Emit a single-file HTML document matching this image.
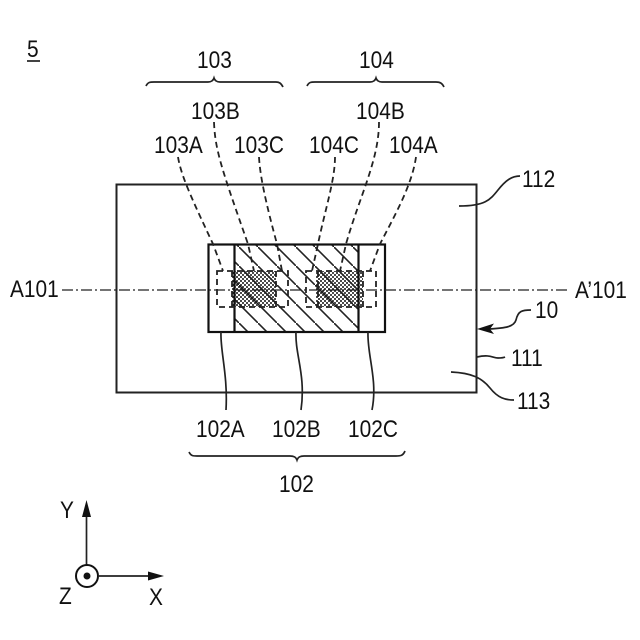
<!DOCTYPE html>
<html>
<head>
<meta charset="utf-8">
<style>
html,body{margin:0;padding:0;background:#fff}
svg{display:block}
text{font-family:"Liberation Sans",sans-serif;font-size:24px;fill:#111;transform-box:fill-box;transform-origin:0 0;transform:scaleX(.87)}
.l{fill:none;stroke:#222;stroke-width:1.7}
.d{fill:none;stroke:#222;stroke-width:1.8;stroke-dasharray:6 4}
</style>
</head>
<body>
<svg width="640" height="640" viewBox="0 0 640 640" xmlns="http://www.w3.org/2000/svg">
<defs>
<pattern id="h" width="19" height="19" patternUnits="userSpaceOnUse" patternTransform="translate(11 0)">
<path d="M-3 -3L22 22" stroke="#222" stroke-width="1.600" fill="none"/>
</pattern>
<pattern id="s" width="4" height="4" patternUnits="userSpaceOnUse">
<rect width="4" height="4" fill="#fff"/>
<circle cx="1" cy="1" r="1" fill="#111"/>
<circle cx="3" cy="3" r="1" fill="#111"/>
</pattern>
</defs>

<text x="27" y="57">5</text>
<path d="M27 61H40" stroke="#222" stroke-width="1.700"/>

<rect x="116.500" y="184.500" width="360" height="208" fill="none" stroke="#222" stroke-width="2"/>

<rect x="234" y="244" width="124" height="88" fill="url(#h)"/>
<rect x="232" y="271" width="44" height="36" fill="url(#s)"/>
<rect x="316" y="271" width="47" height="36" fill="url(#s)"/>
<rect x="234" y="271" width="42" height="36" fill="url(#h)"/>
<rect x="316" y="271" width="42" height="36" fill="url(#h)"/>
<rect x="208.500" y="244.500" width="176.500" height="87.500" fill="none" stroke="#111" stroke-width="2.200"/>
<path d="M234.500 244V332M358.500 244V332" stroke="#111" stroke-width="2.200"/>

<path d="M62 290H568" fill="none" stroke="#222" stroke-width="1.300" stroke-dasharray="11 3 2 3"/>

<rect x="217" y="271" width="71" height="36" class="d"/>
<path d="M232 271V307M276 271V307" class="d"/>
<rect x="306" y="271" width="70" height="36" class="d"/>
<path d="M318 271V307M363 271V307" class="d"/>

<path d="M178 157C181 175 190 195 213 244L223 271" class="d"/>
<path d="M214 122C215 150 222 170 248 244L254 271" class="d"/>
<path d="M259 157C260 175 265 200 277 244L282 271" class="d"/>
<path d="M335 157C335 180 325 210 318 244L312 271" class="d"/>
<path d="M379 122C379 160 360 195 346 244L340 271" class="d"/>
<path d="M416 157C412 185 395 215 380 244L370 271" class="d"/>

<path d="M146 86C148 82 150 82 154 82H208C211 82 213 81 214 78C215 81 217 82 220 82H276C279 82 281 83 283 87" class="l"/>
<path d="M307 86C309 82 311 82 315 82H370C373 82 375 81 376 78C377 81 379 82 382 82H436C440 82 442 83 444 87" class="l"/>
<path d="M189 452C191 456 193 456 197 456H290C294 456 296 457 297 460C298 457 300 456 304 456H396C400 456 403 456 405 451" class="l"/>

<path d="M221 332C220 350 228 375 226 410" class="l"/>
<path d="M296 332C295 355 306 375 301 410" class="l"/>
<path d="M368 332C367 355 378 380 372 410" class="l"/>

<path d="M459 206C485 206 490 200 498 190C506 180 512 176 520 176" class="l"/>
<path d="M451 372C472 373 482 378 490 388C498 398 505 400 514 400" class="l"/>
<path d="M477 357C490 354 493 358 498 358C500 358 503 358 505 357" class="l"/>
<path d="M490 329C505 328 514 327 516 320C518 311 522 310 531 310" class="l"/>
<path d="M477 329L494 323.500L490 329L494 334Z" fill="#111"/>

<text x="197" y="68">103</text>
<text x="359" y="68">104</text>
<text x="191" y="119">103B</text>
<text x="356" y="119">104B</text>
<text x="154" y="153">103A</text>
<text x="234" y="153">103C</text>
<text x="309" y="153">104C</text>
<text x="389" y="153">104A</text>
<text x="10" y="297">A101</text>
<text x="575" y="298">A’101</text>
<text x="522" y="187">112</text>
<text x="535" y="318">10</text>
<text x="511" y="366">111</text>
<text x="517" y="409">113</text>
<text x="196" y="437">102A</text>
<text x="272" y="437">102B</text>
<text x="348" y="437">102C</text>
<text x="279" y="492">102</text>

<path d="M86.500 565V512" stroke="#222" stroke-width="1.700"/>
<path d="M86.500 500L91 517H82Z" fill="#111"/>
<circle cx="87" cy="576" r="11" fill="#fff" stroke="#111" stroke-width="2"/>
<circle cx="87" cy="576" r="3.500" fill="#111"/>
<path d="M98 576H150" stroke="#222" stroke-width="1.700"/>
<path d="M164 576L148 571.500V580.500Z" fill="#111"/>
<text x="60" y="518">Y</text>
<text x="59" y="604">Z</text>
<text x="149" y="605">X</text>
</svg>
</body>
</html>
